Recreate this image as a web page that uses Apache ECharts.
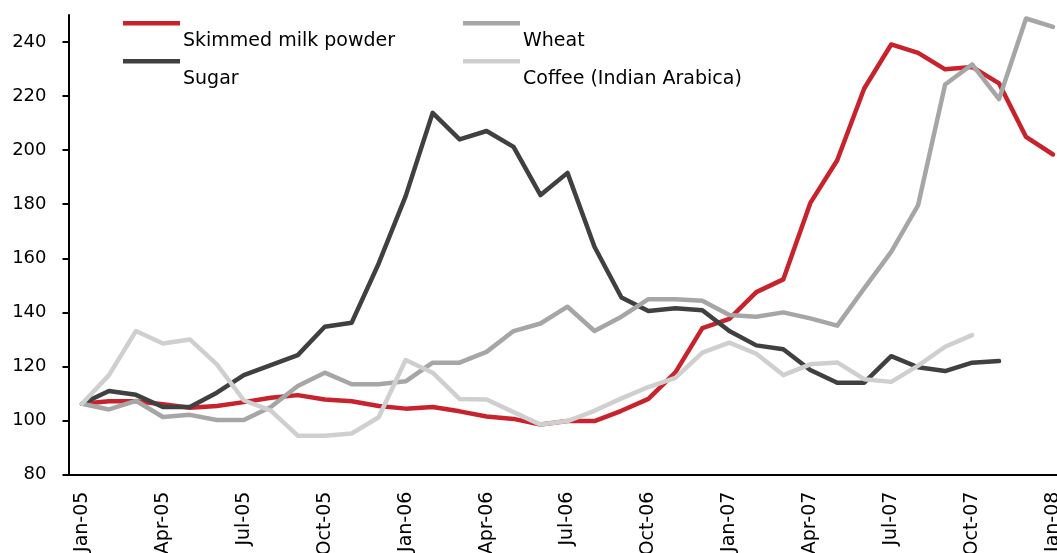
<!DOCTYPE html>
<html>
<head>
<meta charset="utf-8">
<script src="https://cdn.jsdelivr.net/npm/echarts@6/dist/echarts.min.js"></script>
<style>
  html, body { margin: 0; padding: 0; background: #fff; }
  #chart { width: 1057px; height: 553px; }
</style>
</head>
<body>
<div id="chart"></div>
<script>
// monthly index values
const months = ['Jan-05','Feb-05','Mar-05','Apr-05','May-05','Jun-05','Jul-05','Aug-05','Sep-05','Oct-05','Nov-05','Dec-05',
  'Jan-06','Feb-06','Mar-06','Apr-06','May-06','Jun-06','Jul-06','Aug-06','Sep-06','Oct-06','Nov-06','Dec-06',
  'Jan-07','Feb-07','Mar-07','Apr-07','May-07','Jun-07','Jul-07','Aug-07','Sep-07','Oct-07','Nov-07','Dec-07','Jan-08'];

const skimmedMilk = [106.2, 107.1, 107.1, 106.0, 104.7, 105.4, 106.8, 108.4, 109.4, 107.8, 107.1, 105.4,
  104.4, 105.0, 103.4, 101.5, 100.6, 98.5, 99.8, 99.8, 103.6, 108.0, 117.8, 134.2,
  137.6, 147.5, 152.2, 180.4, 196.3, 222.8, 239.1, 236.0, 229.9, 230.8, 224.7, 204.9, 198.4];

const sugar = [106.2, 110.9, 109.5, 105.0, 105.0, 110.3, 116.8, 120.5, 124.2, 134.7, 136.2, 158.1,
  183.0, 213.8, 204.0, 207.1, 201.2, 183.4, 191.6, 164.3, 145.5, 140.5, 141.5, 140.8,
  133.1, 127.8, 126.4, 118.7, 114.0, 114.0, 123.8, 119.7, 118.3, 121.4, 122.0, null, null];

const wheat = [106.2, 104.1, 107.3, 101.3, 102.1, 100.2, 100.2, 105.0, 112.8, 117.7, 113.4, 113.4,
  114.5, 121.4, 121.4, 125.4, 133.1, 135.9, 142.1, 133.1, 138.4, 144.9, 144.9, 144.3,
  139.0, 138.4, 140.0, 137.8, 135.1, 148.9, 162.4, 179.7, 224.3, 231.7, 218.9, 248.7, 245.6];

const coffee = [106.2, 116.8, 133.1, 128.5, 130.0, 120.8, 107.5, 103.7, 94.4, 94.4, 95.2, 101.2,
  122.4, 117.7, 108.0, 107.8, 103.1, 98.5, 99.8, 103.6, 108.2, 112.4, 115.8, 125.1,
  128.8, 124.7, 116.8, 120.8, 121.5, 115.3, 114.3, 120.3, 127.3, 131.6, null, null, null];

const yTicks = [80, 100, 120, 140, 160, 180, 200, 220, 240];

const names = ['Skimmed milk powder', 'Sugar', 'Wheat', 'Coffee (Indian Arabica)'];
const colors = ['#C8232C', '#404040', '#A6A6A6', '#CFCFCF'];
const values = [skimmedMilk, sugar, wheat, coffee];

const font = 'DejaVu Sans';
const chart = echarts.init(document.getElementById('chart'));

// legend: short bar at the top of a tall icon box, so the text sits below-right of it
const legendIcon = 'path://M0,0H57V4.5H0Z M57,40L57,40';
const legendPos = [[123, 21], [123, 59], [463, 21], [463, 59]];
const legends = names.map((n, i) => ({
  data: [n],
  left: legendPos[i][0],
  top: legendPos[i][1],
  padding: 0,
  icon: legendIcon,
  symbolKeepAspect: false,
  itemWidth: 57,
  itemHeight: 40,
  itemGap: 0,
  selectedMode: false,
  textStyle: {
    fontFamily: font,
    fontSize: 19,
    color: '#000',
    padding: [0, 0, 0, -2]
  }
}));

const option = {
  animation: false,
  backgroundColor: '#fff',
  color: colors,
  legend: legends,
  grid: { left: 68.5, top: 15, width: 998, height: 459.6, outerBoundsMode: 'none', containLabel: false },
  xAxis: {
    type: 'category',
    data: months,
    boundaryGap: true,
    axisLine: { lineStyle: { color: '#000', width: 2 } },
    axisTick: { interval: 2, length: 5, lineStyle: { color: '#000', width: 2 } },
    axisLabel: {
      interval: 2,
      rotate: 90,
      margin: 17,
      color: '#000',
      fontFamily: font,
      fontSize: 19
    },
    splitLine: { show: false }
  },
  yAxis: {
    type: 'value',
    min: 80,
    max: 250,
    interval: 20,
    axisLine: { show: true, lineStyle: { color: '#000', width: 2 } },
    axisTick: { show: true, length: 6, customValues: yTicks, lineStyle: { color: '#000', width: 2 } },
    axisLabel: { customValues: yTicks, margin: 22, color: '#000', fontFamily: font, fontSize: 18 },
    splitLine: { show: false }
  },
  series: names.map((n, i) => ({
    name: n,
    type: 'line',
    data: values[i],
    symbol: 'none',
    connectNulls: false,
    lineStyle: { width: 4.5, color: colors[i], cap: 'round', join: 'round' }
  }))
};

chart.setOption(option);
</script>
</body>
</html>
